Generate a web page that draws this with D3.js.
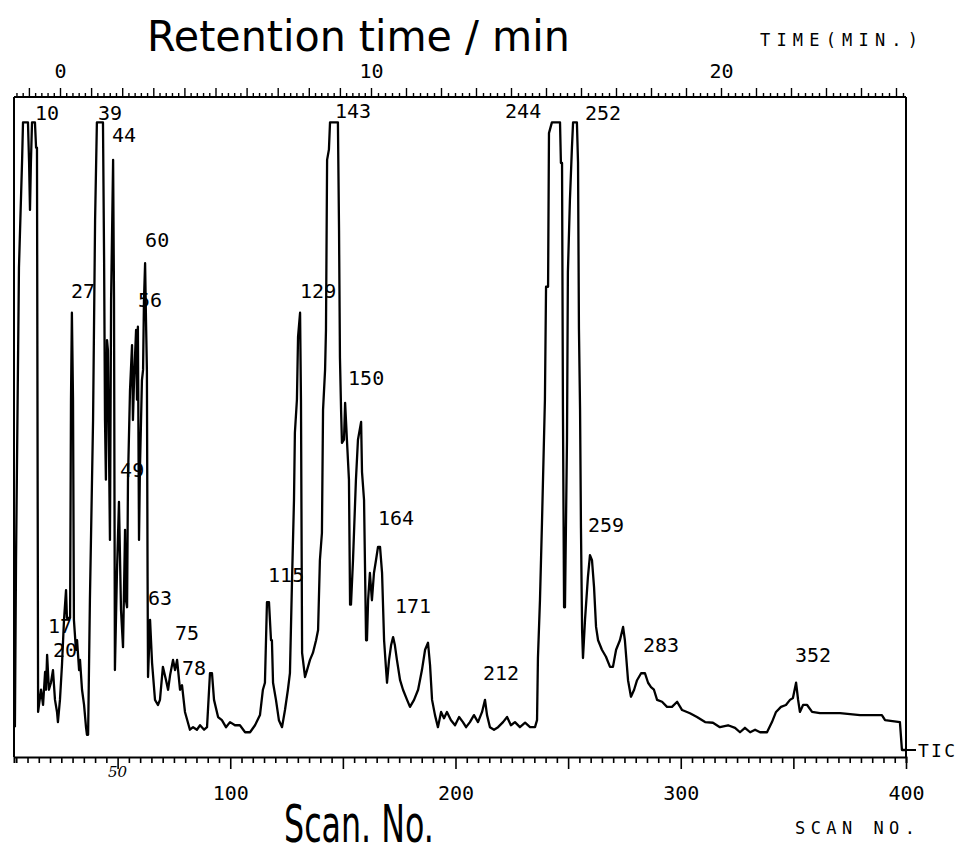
<!DOCTYPE html>
<html><head><meta charset="utf-8">
<script src="https://cdn.jsdelivr.net/npm/d3@7"></script>
<style>
body{margin:0;background:#fff;}
svg{display:block;}
</style></head><body>
<svg id="chart" width="970" height="854"></svg>
<script>
// ---- data ----
const scans = [4.4,4.9,6.2,7.6,8.0,10.2,10.7,11.1,11.5,12.0,13.3,13.8,14.2,14.7,15.1,16.0,16.9,17.8,18.2,18.7,19.5,20.4,21.3,22.2,23.1,23.5,24.4,25.3,26.2,27.1,27.5,28.9,29.3,29.7,30.2,30.6,31.5,32.0,32.9,33.3,34.2,35.1,36.0,36.4,36.9,37.7,39.1,40.0,40.8,43.5,44.0,44.4,44.8,45.3,45.7,46.6,47.1,48.0,48.4,48.8,49.7,50.6,51.5,52.4,53.3,53.7,54.2,54.6,55.5,56.4,56.8,57.3,58.2,58.6,59.0,59.5,59.9,60.8,61.3,61.7,62.2,62.6,63.0,63.3,63.5,64.4,65.3,66.6,67.9,68.8,70.1,71.5,72.4,73.3,74.6,75.5,76.4,77.7,78.6,79.9,82.1,83.5,85.2,86.6,88.4,89.7,91.0,91.9,92.8,94.6,96.3,98.1,99.9,102.1,104.3,106.6,108.8,111.0,113.2,114.5,115.4,116.3,117.2,118.1,118.5,119.0,120.3,121.6,123.0,124.3,125.6,126.5,127.4,128.3,128.7,129.6,130.1,131.0,131.4,131.9,133.2,134.1,135.4,136.7,138.1,139.0,139.8,140.7,141.2,142.1,142.5,143.0,143.8,144.3,147.8,148.3,148.7,149.2,149.6,150.5,151.0,151.8,152.7,153.2,153.6,154.5,155.8,156.7,158.1,158.5,159.4,160.3,160.7,161.2,162.0,162.9,163.8,164.7,165.6,166.5,167.4,168.3,169.1,169.6,170.5,171.4,172.3,173.1,174.0,175.4,176.7,178.5,179.8,181.6,183.4,185.1,186.5,187.8,188.7,189.6,190.9,192.2,193.6,194.9,196.2,198.0,199.8,201.6,203.3,204.7,206.4,208.2,210.0,211.8,213.1,214.0,215.3,217.1,218.9,221.1,222.9,224.6,226.4,228.6,230.9,233.1,235.3,236.2,236.6,237.5,238.4,239.7,240.2,241.1,241.5,242.8,246.4,246.8,247.3,247.7,248.2,248.6,249.5,249.9,250.8,251.7,252.2,253.9,254.4,254.8,255.3,255.7,256.2,256.6,257.5,258.8,259.7,260.6,261.5,262.4,263.3,265.0,266.8,268.6,269.9,271.3,273.0,274.4,275.2,276.6,277.9,279.3,280.6,282.4,284.1,285.5,286.8,288.1,289.5,291.7,293.9,296.1,298.4,300.6,304.1,307.2,310.8,314.3,317.4,321.0,324.1,326.3,328.5,330.8,333.0,335.2,338.3,340.5,342.3,344.5,346.7,348.5,349.8,351.2,352.1,352.9,354.3,356.1,358.3,361.8,370.7,379.6,389.3,390.7,397.3,398.2,400.0];
const tic = [4.7,31.0,77.1,94.1,100,100,93.6,86.2,93.6,100,100,96.0,96.0,7.1,8.2,10.6,8.2,13.4,10.6,16.1,10.6,11.7,13.7,9.0,7.1,5.5,9.0,14.5,21.6,26.3,21.9,21.9,56.3,70.0,56.3,21.6,16.9,18.4,13.7,15.3,10.6,8.2,4.6,3.5,3.5,24.7,53.1,84.6,100,100,78.3,53.1,43.7,65.7,64.1,34.2,72.0,94.1,72.0,13.7,29.0,40.2,23.2,17.3,35.8,24.7,23.6,43.7,57.8,64.9,53.1,59.4,67.3,56.3,67.8,34.2,45.2,59.4,61.0,72.0,77.8,68.9,61.0,28.4,12.6,21.6,14.8,9.0,8.2,9.0,14.2,12.1,10.6,12.9,15.3,13.7,15.3,10.6,11.3,7.1,4.3,4.7,4.3,5.0,4.3,4.7,13.2,13.2,9.0,6.3,5.8,4.7,5.5,5.0,5.0,3.9,3.9,5.0,6.6,10.6,11.7,24.4,24.4,18.4,18.4,11.7,9.0,5.8,4.7,7.4,10.6,13.2,27.4,40.5,51.1,56.3,66.2,70.0,56.3,16.4,12.6,13.7,15.3,16.4,18.4,20.0,31.0,35.3,54.7,61.0,67.3,94.1,95.7,100,100,83.0,63.0,54.7,49.5,50.0,55.8,50.0,43.7,24.0,24.0,31.0,43.7,50.0,52.8,44.9,40.5,18.4,18.4,24.7,29.0,24.7,29.0,31.0,33.1,33.1,29.0,18.4,14.2,11.7,15.3,17.6,18.9,17.6,15.3,12.1,10.6,9.0,7.9,9.0,10.6,13.7,16.9,18.0,14.5,9.0,6.6,4.7,7.1,6.1,7.1,5.8,5.0,6.3,5.5,4.7,5.5,6.6,5.5,7.1,9.0,6.6,4.7,4.3,4.7,5.5,6.3,5.0,5.5,4.7,5.4,4.7,4.7,5.8,15.6,24.7,37.0,56.3,74.1,74.1,98.3,100,100,93.6,93.6,54.7,23.6,23.6,50.0,76.4,87.8,96.1,100,100,93.6,67.6,54.7,36.1,20.0,15.6,21.6,28.4,31.8,31.0,26.8,20.5,18.4,16.9,15.8,14.2,14.2,16.9,18.4,20.5,18.4,12.1,9.5,10.6,12.1,13.2,13.2,11.7,11.0,10.6,9.0,8.7,7.9,7.9,8.7,7.4,6.9,6.3,5.5,5.4,4.7,5.0,4.6,3.9,4.6,3.9,4.3,3.9,3.9,5.5,7.1,7.9,8.2,9.0,9.3,11.7,9.0,7.1,8.2,8.2,7.1,6.9,6.9,6.6,6.6,5.8,5.5,1.1,1.1];

const scanTickLabels = [100, 200, 300, 400];
const timeTickLabels = [0, 10, 20];

// peak annotations: scan number printed, and the (scan, level) anchor where the printer put it
const peakText  = ["10","39","44","60","27","56","49","17","20","63","75","78","115","129","143","150","164","171","212","244","252","259","283","352"];
const peakScan  = [13.3,41.3,47.5,62.2,29.3,59.0,51.1,19.1,21.3,63.5,75.5,78.6,116.8,131.0,146.5,152.3,165.6,173.1,212.2,222.0,257.5,258.8,283.2,350.7];
const peakLevel = [100.4,100.4,96.9,80.4,72.3,70.9,44.1,19.5,15.8,24.0,18.4,12.9,27.6,72.3,100.7,58.6,36.6,22.7,12.1,100.7,100.4,35.5,16.5,15.0];

// ---- layout ----
const svg = d3.select("#chart");
const L = 14, R = 906, T = 97, B = 757;
const x = d3.scaleLinear().domain([4, 400]).range([L, R]);
const y = d3.scaleLinear().domain([0, 104]).range([B, T]);
// the printed time scale is not evenly spaced against scans
const t = d3.scaleLinear().domain([0, 10, 20]).range([60, 371, 721]);

const mono = "'DejaVu Sans Mono', 'Liberation Mono', monospace";

// frame sides
svg.append("line").attr("x1", L).attr("x2", L).attr("y1", T).attr("y2", B)
  .attr("stroke", "#000").attr("stroke-width", 2);
svg.append("line").attr("x1", R).attr("x2", R).attr("y1", T).attr("y2", B)
  .attr("stroke", "#000").attr("stroke-width", 2);

// bottom scan axis
const bottomTicks = d3.range(5, 401, 5);
const gB = svg.append("g").attr("transform", `translate(0,${B})`)
  .call(d3.axisBottom(x).tickValues(bottomTicks).tickSizeOuter(0).tickSize(6)
    .tickFormat(d => scanTickLabels.includes(d) ? d : ""));
gB.select(".domain").attr("stroke-width", 2);
gB.selectAll(".tick line").attr("stroke-width", 1.6)
  .attr("y2", d => d % 50 === 0 ? 12 : 6);
gB.selectAll(".tick text").attr("y", 43).attr("dy", 0)
  .style("font-family", mono).style("font-size", "20px").attr("fill", "#000");

// top time axis
const tMin = Math.ceil(t.invert(L) * 5), tMax = Math.floor(t.invert(R) * 5);
const topTicks = d3.range(tMin, tMax + 1).map(i => i / 5);
const gT = svg.append("g").attr("transform", `translate(0,${T})`)
  .call(d3.axisTop(t).tickValues(topTicks).tickSizeOuter(0).tickSize(4)
    .tickFormat(d => timeTickLabels.includes(d) ? d : ""));
gT.select(".domain").attr("d", `M${L},0H${R}`).attr("stroke-width", 2);
gT.selectAll(".tick line").attr("stroke-width", 1.4)
  .attr("y2", d => Math.abs(d - Math.round(d)) < 1e-6 ? -9 : -4);
gT.selectAll(".tick text").attr("y", -19).attr("dy", 0)
  .style("font-family", mono).style("font-size", "20px").attr("fill", "#000");

// TIC trace
const line = d3.line().x((d, i) => x(scans[i])).y((d, i) => y(tic[i])).curve(d3.curveLinear);
svg.append("path").datum(tic).attr("d", line)
  .attr("fill", "none").attr("stroke", "#000").attr("stroke-width", 2.3)
  .attr("stroke-linejoin", "round");

// TIC marker
const lastY = y(tic[tic.length - 1]);
svg.append("line").attr("x1", R).attr("x2", R + 10).attr("y1", lastY).attr("y2", lastY)
  .attr("stroke", "#000").attr("stroke-width", 2);
svg.append("text").attr("x", R + 12).attr("y", lastY + 7).text("TIC")
  .style("font-family", mono).style("font-size", "18px").attr("textLength", 37);

// peak labels
svg.append("g").selectAll("text").data(peakText).join("text")
  .attr("x", (d, i) => x(peakScan[i]))
  .attr("y", (d, i) => y(peakLevel[i]))
  .text(d => d)
  .style("font-family", mono).style("font-size", "20px").attr("fill", "#000");

// axis captions (printer)
svg.append("text").attr("x", 760).attr("y", 46).text("TIME(MIN.)")
  .style("font-family", mono).style("font-size", "17px")
  .attr("textLength", 158).attr("lengthAdjust", "spacing");
svg.append("text").attr("x", 795).attr("y", 834).text("SCAN NO.")
  .style("font-family", mono).style("font-size", "17px")
  .attr("textLength", 120).attr("lengthAdjust", "spacing");

// hand-written annotations, narrowed with a horizontal scale so their boxes stay true
function narrowText(str, px, py, size, width) {
  const el = svg.append("text").attr("x", 0).attr("y", 0).text(str)
    .style("font-family", "'DejaVu Sans', sans-serif").style("font-size", size + "px");
  const w = el.node().getComputedTextLength();
  el.attr("transform", `translate(${px},${py}) scale(${width / w},1)`);
  return el;
}
narrowText("Retention time / min", 147, 51, 43, 423);
narrowText("Scan. No.", 284, 842, 52, 150);
svg.append("text").attr("x", x(50)).attr("y", 777).attr("text-anchor", "middle").text("50")
  .style("font-family", "'DejaVu Serif', serif").style("font-style", "italic").style("font-size", "15px");
</script>
</body></html>
